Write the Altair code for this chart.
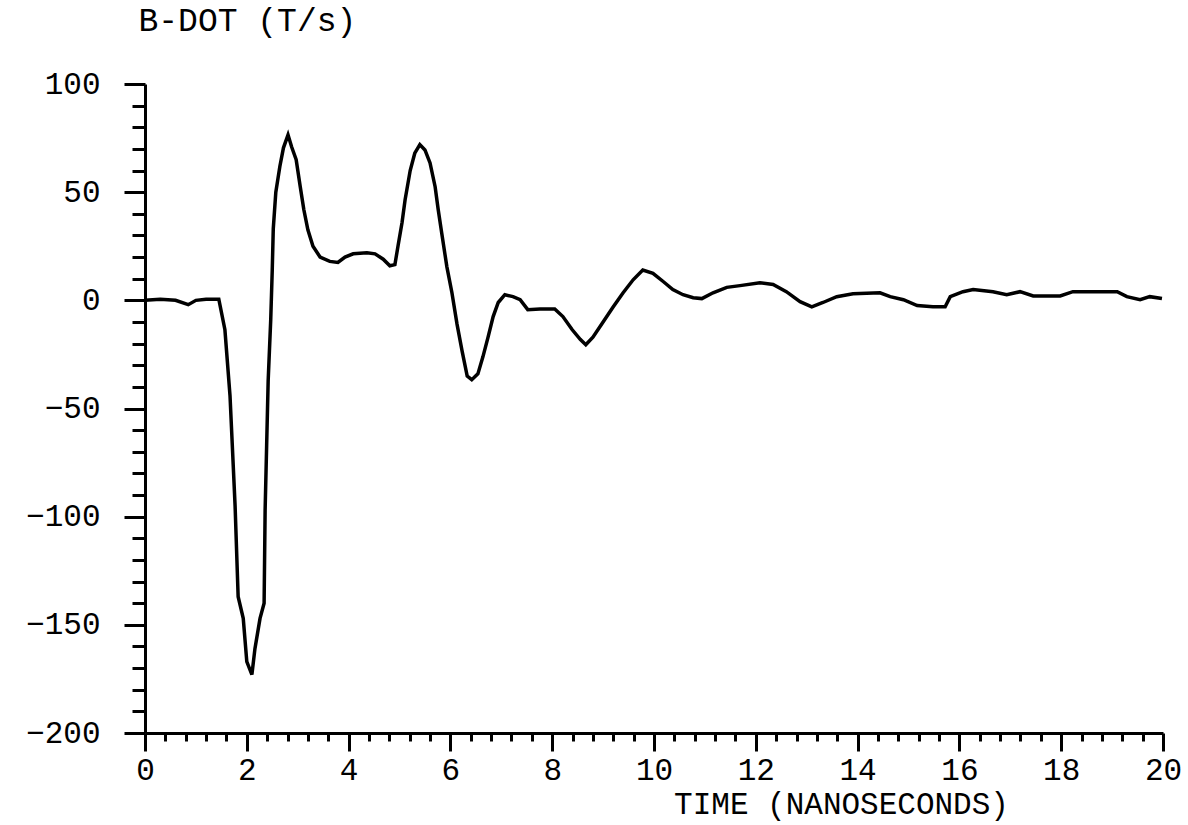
import altair as alt
import pandas as pd

# Time axis (nanoseconds) and B-dot values (T/s)
time_ns = [0, 0.3, 0.6, 0.85, 1.0, 1.2, 1.45, 1.57, 1.67, 1.77, 1.83, 1.93, 2.0, 2.1, 2.16,
           2.26, 2.34, 2.36, 2.39, 2.42, 2.47, 2.5, 2.52, 2.57, 2.65, 2.72, 2.81, 2.88, 2.97,
           3.05, 3.12, 3.2, 3.3, 3.44, 3.63, 3.79, 3.93, 4.09, 4.36, 4.52, 4.68, 4.81, 4.91,
           4.97, 5.05, 5.11, 5.21, 5.3, 5.4, 5.5, 5.6, 5.7, 5.76, 5.83, 5.93, 6.03, 6.13,
           6.23, 6.33, 6.42, 6.54, 6.64, 6.74, 6.84, 6.94, 7.07, 7.23, 7.37, 7.52, 7.76,
           8.05, 8.21, 8.39, 8.55, 8.66, 8.8, 9.0, 9.2, 9.39, 9.59, 9.78, 9.98, 10.18,
           10.37, 10.57, 10.77, 10.94, 11.16, 11.43, 11.69, 12.08, 12.34, 12.6, 12.87,
           13.1, 13.32, 13.59, 13.91, 14.44, 14.64, 14.9, 15.17, 15.48, 15.72, 15.82,
           16.07, 16.27, 16.66, 16.93, 17.19, 17.45, 17.98, 18.23, 18.76, 19.1, 19.29,
           19.55, 19.74, 19.98]
bdot = [0, 0.5, 0, -2, 0, 0.5, 0.5, -13.6, -44, -95, -137, -147, -167, -173, -161,
        -147, -140, -97, -67, -37, -9, 14, 33, 50, 62, 70.5, 76.5, 71, 65,
        52.5, 42, 32.6, 25, 20, 18, 17.5, 20, 21.5, 22, 21.5, 19, 16, 16.5,
        25, 36, 46.5, 60, 68, 72, 69.5, 63.5, 52.5, 42, 31, 15.6, 3.5, -11,
        -23.5, -35, -36.7, -34, -26, -17, -7.5, -1, 2.6, 1.7, 0.3, -4.3, -4,
        -4, -7.5, -13.5, -18, -20.5, -17, -10, -3, 3.4, 9.5, 14, 12.5, 8.7,
        5, 2.6, 1.2, 0.8, 3.5, 6, 6.8, 8.1, 7.3, 4, -0.6,
        -3, -1, 1.7, 3, 3.5, 1.7, 0.3, -2.4, -3, -3, 1.7,
        4, 5, 4, 2.6, 4, 2, 2, 4, 4, 4, 1.7,
        0.3, 1.7, 0.8]
assert len(time_ns) == len(bdot)

x_major = list(range(0, 21, 2))
x_minor = [round(i * 0.4, 1) for i in range(51) if i % 5 != 0]
y_major = list(range(-200, 101, 50))
y_minor = [v for v in range(-200, 101, 10) if v % 50 != 0]

df = pd.DataFrame({"t": time_ns, "b": bdot})

FONT = "Liberation Mono"
xscale = alt.Scale(domain=[0, 20], nice=False, zero=False)
yscale = alt.Scale(domain=[-200, 100], nice=False, zero=False)

main = alt.Chart(df).mark_line(color="black", strokeWidth=3.5).encode(
    x=alt.X("t:Q", scale=xscale, axis=alt.Axis(
        orient="bottom", values=x_major, tickSize=18, tickWidth=3, tickColor="black",
        domainColor="black", domainWidth=3, grid=False, labelFlush=False,
        labelFont=FONT, labelFontSize=31, labelColor="black", labelPadding=4,
        title="TIME (NANOSECONDS)", titleFont=FONT, titleFontSize=31,
        titleFontWeight="normal", titleColor="black", titleX=696, titleY=71,
        titleAlign="center", titleBaseline="middle")),
    y=alt.Y("b:Q", scale=yscale, axis=alt.Axis(
        orient="left", values=y_major, tickSize=21, tickWidth=3, tickColor="black",
        domainColor="black", domainWidth=3, grid=False, labelFlush=False,
        labelFont=FONT, labelFontSize=31, labelColor="black", labelPadding=24,
        title="B-DOT (T/s)", titleFont=FONT, titleFontSize=33,
        titleFontWeight="normal", titleColor="black", titleAngle=0,
        titleX=-7, titleY=-64, titleAlign="left", titleBaseline="middle")),
)

minor = alt.Chart(df).mark_line(opacity=0).encode(
    x=alt.X("t:Q", scale=xscale, axis=alt.Axis(
        orient="bottom", values=x_minor, tickSize=8, tickWidth=3, tickColor="black",
        domain=False, labels=False, grid=False, title="")),
    y=alt.Y("b:Q", scale=yscale, axis=alt.Axis(
        orient="left", values=y_minor, tickSize=13, tickWidth=3, tickColor="black",
        domain=False, labels=False, grid=False, title="")),
)

chart = alt.layer(main, minor).resolve_axis(
    x="independent", y="independent"
).properties(
    width=1018, height=649,
    autosize=alt.AutoSizeParams(type="none"),
    padding={"left": 145, "top": 84, "right": 25, "bottom": 92},
    background="white",
).configure_view(stroke=None)

chart.save("out.html", embed_options={"renderer": "svg", "actions": False})
